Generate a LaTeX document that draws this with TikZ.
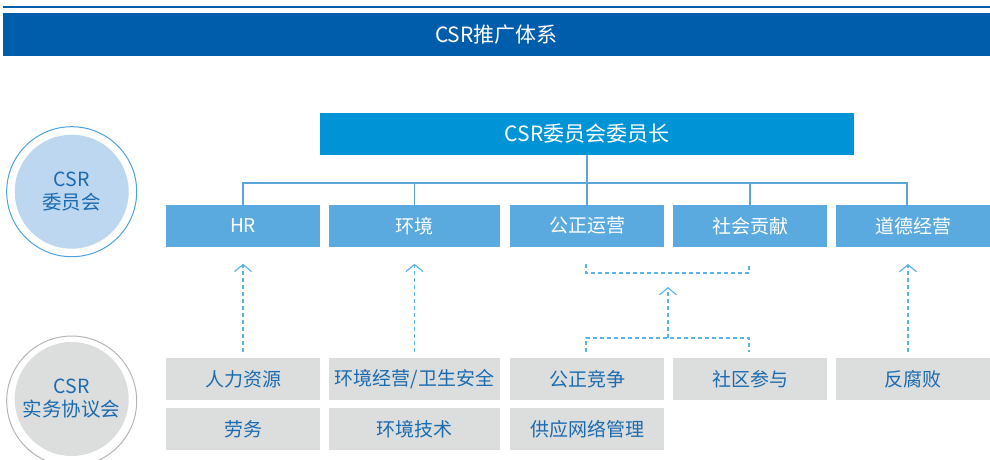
\documentclass[tikz,border=0pt]{standalone}
\usepackage{fontspec}
\newfontfamily\cjk{Noto Sans CJK SC}
\usetikzlibrary{arrows.meta}
\definecolor{banner}{HTML}{005DAC}
\definecolor{topbox}{HTML}{0094D7}
\definecolor{midbox}{HTML}{5AAADF}
\definecolor{linec}{HTML}{5AA6D8}
\definecolor{dashc}{HTML}{5AB4E8}
\definecolor{graybox}{HTML}{DCDDDD}
\definecolor{txtblue}{HTML}{1A6BB0}
\definecolor{circblue}{HTML}{BDD7F1}
\definecolor{ringblue}{HTML}{4BA3DE}
\definecolor{ringgray}{HTML}{B5B5B5}
\tikzset{
  box/.style={rectangle, inner sep=0pt, minimum height=41.5pt, font=\cjk\fontsize{19}{21}\selectfont},
  bluebox/.style={box, fill=midbox, text=white},
  greybox/.style={box, fill=graybox, text=txtblue},
  tree/.style={draw=linec, line width=1.3pt},
  dashline/.style={draw=dashc, line width=1.2pt, dash pattern=on 4pt off 3pt},
  uparrow/.style={dashline, -{Straight Barb[length=7pt, width=17pt, line width=1.2pt]}},
  circtext/.style={font=\cjk\fontsize{19.5}{23}\selectfont, text=txtblue, align=center}
}
\begin{document}
\begin{tikzpicture}[x=1pt, y=-1pt]
\useasboundingbox (0,0) rectangle (990,459);
\clip (0,0) rectangle (990,459);
% top rule and banner
\coordinate (ruleL) at (3,7);
\coordinate (ruleR) at (990,7);
\draw[banner, line width=1.2pt] (ruleL) -- (ruleR);
\node[rectangle, fill=banner, inner sep=0pt, minimum width=987pt, minimum height=42.5pt,
  text=white, font=\cjk\fontsize{21}{23}\selectfont] (ban) at (496.5,34.3) {CSR推广体系};
% circles
\node[circle, draw=ringblue, line width=1pt, fill=white, minimum size=130pt, inner sep=0pt] (c1o) at (71.7,191.7) {};
\node[circle, fill=circblue, minimum size=114pt, inner sep=0pt, circtext] (c1) at (71.7,191.7) {CSR\\委员会};
\node[circle, draw=ringgray, line width=1pt, fill=white, minimum size=130pt, inner sep=0pt] (c2o) at (71.7,401) {};
\node[circle, fill=graybox, minimum size=114pt, inner sep=0pt, circtext] (c2) at (71.7,399) {CSR\\实务协议会};
% top box
\node[box, fill=topbox, text=white, minimum width=534pt, minimum height=42pt, font=\cjk\fontsize{21}{23}\selectfont] (chief) at (587,134) {CSR委员会委员长};
% mid row
\node[bluebox, minimum width=154pt] (hr) at (243,225.8) {HR};
\node[bluebox, minimum width=171pt] (env) at (414.5,225.8) {环境};
\node[bluebox, minimum width=154pt] (fair) at (587,225.8) {公正运营};
\node[bluebox, minimum width=154pt] (soc) at (750,225.8) {社会贡献};
\node[bluebox, minimum width=154pt] (eth) at (913,225.8) {道德经营};
% bottom rows
\node[greybox, minimum width=154pt] (hrres) at (243,379) {人力资源};
\node[greybox, minimum width=171pt] (envsafe) at (414.5,379) {环境经营/卫生安全};
\node[greybox, minimum width=154pt] (comp) at (587,379) {公正竞争};
\node[greybox, minimum width=154pt] (comm) at (750,379) {社区参与};
\node[greybox, minimum width=154pt] (anti) at (913,379) {反腐败};
\node[greybox, minimum width=154pt] (labor) at (243,429) {劳务};
\node[greybox, minimum width=171pt] (envtech) at (414.5,429) {环境技术};
\node[greybox, minimum width=154pt] (supply) at (587,429) {供应网络管理};
% tree connectors
\coordinate (hbar) at (0,183);
\draw[tree] (chief.south) -- (fair.north);
\draw[tree] (hr.north) -- (hr.north |- hbar) -- (907,183) -- (907,204.5);
\draw[tree] (env.north) -- (env.north |- hbar);
\draw[tree] (soc.north) -- (soc.north |- hbar);
% dashed arrows
\draw[uparrow, shorten <=6pt, shorten >=17pt] (hrres.north) -- (hr.south);
\draw[uparrow, shorten <=6pt, shorten >=17pt] (envsafe.north) -- (env.south);
\coordinate (ethx) at (908,0);
\draw[uparrow] (ethx |- 0,352) -- (ethx |- 0,264);
% middle bracket
\coordinate (bt1) at (586,264);
\coordinate (bt2) at (749,264);
\coordinate (bb1) at (586,352);
\coordinate (bb2) at (749,352);
\draw[dashline] (bt1) -- (586,273) -- (749,273) -- (bt2);
\draw[dashline] (bb1) -- (586,338) -- (749,338) -- (bb2);
\coordinate (mbot) at (668,338);
\coordinate (mtop) at (668,287);
\draw[uparrow] (mbot) -- (mtop);
\end{tikzpicture}
\end{document}
